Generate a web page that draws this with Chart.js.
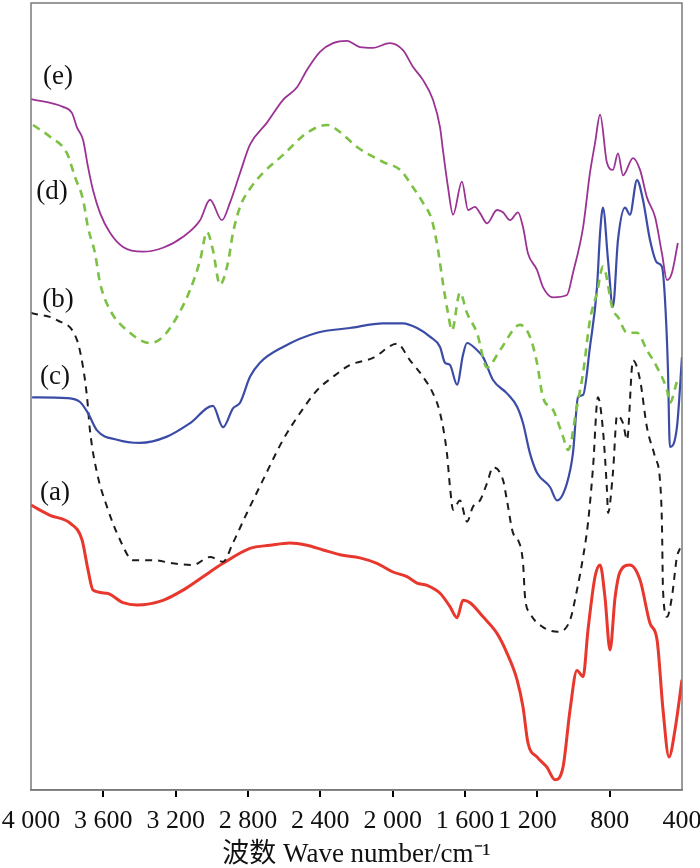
<!DOCTYPE html>
<html>
<head>
<meta charset="utf-8">
<script src="https://cdn.jsdelivr.net/npm/chart.js@4.4.1/dist/chart.umd.min.js"></script>
<style>
html,body{margin:0;padding:0;background:#fff;}
#wrap{width:700px;height:868px;position:relative;}
</style>
</head>
<body>
<div id="wrap"><canvas id="c" width="700" height="868"></canvas></div>
<script>
// ---- data (wavenumber in cm-1, relative transmittance) ----
const tickValues = [4000, 3600, 3200, 2800, 2400, 2000, 1600, 1200, 800, 400];
const tickLabels = ['4 000', '3 600', '3 200', '2 800', '2 400', '2 000', '1 600', '1 200', '800', '400'];
const seriesNames = ['(a)', '(b)', '(c)', '(d)', '(e)'];

const eWave = [4000,3823,3773,3746,3712,3685,3657,3618,3563,3491,3381,3270,3159,3065,3010,2944,2900,2844,2789,2695,2606,2529,2474,2402,2330,2253,2181,2109,2015,1943,1888,1832,1777,1738,1722,1694,1666,1617,1583,1545,1517,1478,1423,1390,1351,1307,1279,1252,1202,1169,1113,1036,1003,947,909,881,853,815,782,754,726,671,632,594,549,511,483,456,423];
const eValue = [87.8,86.8,86.0,84.2,82.6,79.2,76.2,73.3,70.8,69.0,68.4,68.9,70.3,72.4,75.0,72.4,74.6,78.4,82.0,84.8,87.7,89.3,91.5,93.8,94.9,95.2,94.4,94.3,94.9,94.0,91.9,90.2,87.7,84.2,81.3,76.6,73.1,77.3,73.7,74.1,73.3,72.0,73.7,73.4,72.4,73.4,71.5,68.2,66.1,63.9,62.6,62.9,65.7,71.5,78.4,82.2,85.8,79.7,78.8,80.9,78.1,80.3,78.8,75.3,72.8,68.2,64.8,65.7,69.5];

const dWave = [3989,3895,3801,3757,3712,3685,3646,3618,3563,3469,3342,3270,3193,3121,3065,3027,2994,2955,2911,2883,2844,2789,2717,2606,2474,2363,2291,2197,2053,1959,1888,1832,1783,1749,1722,1694,1672,1628,1589,1534,1478,1406,1296,1241,1202,1169,1113,1058,1030,981,947,909,870,837,782,754,704,649,594,538,483,467,423,400];
const dValue = [84.5,83.0,80.9,77.9,75.0,71.5,68.2,64.4,61.0,58.4,56.8,57.6,60.1,63.5,67.3,70.9,68.6,64.2,67.0,70.8,74.1,76.4,78.4,80.7,83.5,84.5,83.6,81.7,79.8,78.8,76.6,74.6,72.4,68.6,64.4,60.6,58.4,63.2,60.6,58.1,53.7,55.9,59.1,57.6,54.3,49.9,48.3,44.9,43.2,48.7,53.0,59.7,63.2,66.5,61.0,60.1,58.1,58.1,55.9,53.7,50.8,49.2,52.1,52.4];

const cWave = [3994,3801,3729,3685,3635,3524,3397,3248,3121,2994,2938,2883,2844,2789,2734,2606,2418,2236,2053,1943,1865,1794,1738,1711,1683,1644,1611,1589,1534,1500,1445,1368,1312,1279,1241,1202,1130,1091,1036,1003,975,947,909,870,853,837,809,782,754,715,688,649,616,577,538,511,494,478,467,428,400];
const cValue = [49.9,49.8,49.3,47.9,45.7,44.5,44.1,44.9,46.6,48.8,46.1,48.5,49.2,52.5,54.3,56.3,58.1,58.7,59.3,59.3,58.7,57.6,56.3,54.3,54.0,51.5,55.3,56.8,55.9,55.0,52.1,50.4,48.7,46.6,42.8,40.3,38.5,36.8,39.0,42.8,49.9,50.2,56.3,63.9,70.8,74.0,67.3,61.4,69.9,74.0,73.1,77.5,75.0,69.9,67.0,66.5,62.3,53.7,43.6,46.1,55.0];

const bWave = [4000,3856,3746,3712,3690,3674,3635,3580,3508,3436,3325,3215,3104,3010,2938,2883,2806,2717,2606,2512,2418,2330,2236,2109,1976,1904,1832,1777,1738,1700,1683,1666,1628,1589,1556,1517,1478,1445,1390,1368,1335,1307,1279,1268,1241,1169,1086,1019,981,947,920,892,865,837,815,809,782,759,726,704,671,632,594,549,522,511,505,483,456,428,411];
const bValue = [60.6,59.7,57.2,53.7,49.9,45.7,40.3,36.0,31.8,29.2,29.2,28.8,28.6,29.6,29.0,31.4,35.2,39.4,44.5,47.9,50.8,52.5,54.0,54.9,56.7,54.6,52.5,50.4,47.9,42.8,38.5,35.6,36.8,34.1,36.0,36.8,39.0,41.0,39.4,36.8,32.7,31.8,28.8,24.5,22.5,20.7,20.1,21.6,25.4,29.6,33.9,41.0,49.9,45.7,38.1,35.2,40.3,47.6,46.6,44.5,54.6,52.1,46.1,42.3,39.4,33.9,25.4,22.0,24.5,29.6,30.7];

const aWave = [4000,3895,3784,3718,3685,3657,3580,3491,3414,3270,3159,3049,2938,2789,2678,2568,2474,2385,2291,2181,2087,1998,1921,1865,1810,1738,1683,1644,1611,1572,1500,1423,1368,1312,1279,1252,1202,1147,1102,1058,1019,981,947,920,881,853,826,798,770,743,688,632,577,538,505,472,439,400];
const aValue = [36.2,34.9,33.9,31.8,28.0,25.4,25.0,23.8,23.5,24.1,25.4,27.1,28.8,30.7,31.1,31.4,31.1,30.5,29.9,29.5,28.8,27.7,27.1,26.3,26.0,25.0,23.3,21.9,24.1,23.8,22.0,19.9,17.4,14.0,10.5,6.0,4.2,2.9,1.3,2.9,10.2,15.2,14.4,20.3,27.1,28.6,24.5,17.8,24.5,27.7,28.6,26.7,21.2,19.1,10.2,4.2,7.6,14.0];

function pts(w, v) { return w.map((x, i) => ({ x: x, y: v[i] })); }

// label anchors in data space
const labelAnchors = [
  { text: '(e)', x: 3851, y: 90.6 },
  { text: '(d)', x: 3884, y: 76.0 },
  { text: '(b)', x: 3851, y: 62.3 },
  { text: '(c)', x: 3867, y: 52.5 },
  { text: '(a)', x: 3867, y: 37.7 }
];

const framePlugin = {
  id: 'frame',
  afterDatasetsDraw(chart) {
    const { ctx, chartArea: a, scales } = chart;
    ctx.save();
    ctx.strokeStyle = '#7a7a7a';
    ctx.lineWidth = 1.5;
    ctx.strokeRect(a.left, a.top, a.right - a.left, a.bottom - a.top);
    ctx.fillStyle = '#111';
    ctx.font = '27px "Liberation Serif", "Times New Roman", serif';
    ctx.textAlign = 'center';
    ctx.textBaseline = 'middle';
    labelAnchors.forEach(l => {
      ctx.fillText(l.text, scales.x.getPixelForValue(l.x), scales.y.getPixelForValue(l.y));
    });
    ctx.restore();
  }
};

const common = { pointRadius: 0, fill: false, cubicInterpolationMode: 'monotone' };

new Chart(document.getElementById('c'), {
  type: 'line',
  data: {
    datasets: [
      Object.assign({ label: seriesNames[4], data: pts(eWave, eValue), borderColor: '#9b3393', borderWidth: 1.8 }, common),
      Object.assign({ label: seriesNames[3], data: pts(dWave, dValue), borderColor: '#7cc143', borderWidth: 2.6, borderDash: [8, 6] }, common),
      Object.assign({ label: seriesNames[2], data: pts(cWave, cValue), borderColor: '#3b4ca7', borderWidth: 2.2 }, common),
      Object.assign({ label: seriesNames[1], data: pts(bWave, bValue), borderColor: '#1c1c1c', borderWidth: 2.0, borderDash: [7, 6] }, common),
      Object.assign({ label: seriesNames[0], data: pts(aWave, aValue), borderColor: '#e8372d', borderWidth: 3.0 }, common)
    ]
  },
  options: {
    responsive: false,
    animation: false,
    layout: { padding: { left: 31, right: 18, top: 3, bottom: 0 } },
    plugins: { legend: { display: false }, tooltip: { enabled: false } },
    scales: {
      x: {
        type: 'linear',
        reverse: true,
        min: 400,
        max: 4000,
        afterBuildTicks(scale) { scale.ticks = tickValues.map(v => ({ value: v })); },
        afterFit(scale) { scale.paddingLeft = 0; scale.paddingRight = 0; scale.height = 78; },
        border: { display: true, color: '#7a7a7a', width: 1.5 },
        grid: {
          drawOnChartArea: false,
          drawTicks: true,
          tickLength: 7,
          lineWidth: 2,
          color: (ctx) => (ctx.tick && (ctx.tick.value === 4000 || ctx.tick.value === 400)) ? 'rgba(0,0,0,0)' : '#000'
        },
        ticks: {
          autoSkip: false,
          maxRotation: 0,
          padding: 9,
          color: '#111',
          font: { family: '"Liberation Serif", "Times New Roman", serif', size: 26 },
          callback: (v) => {
            const s = tickLabels[tickValues.indexOf(v)];
            return v === 1200 ? s + '   ' : s;
          }
        },
        title: {
          display: true,
          text: '波数 Wave number/cm⁻¹',
          color: '#111',
          padding: { top: 0, bottom: 0 },
          font: { family: '"Liberation Serif", "Noto Sans CJK SC", serif', size: 27, lineHeight: 1.0 }
        }
      },
      y: { display: false, min: 0, max: 100 }
    }
  },
  plugins: [framePlugin]
});
</script>
</body>
</html>
